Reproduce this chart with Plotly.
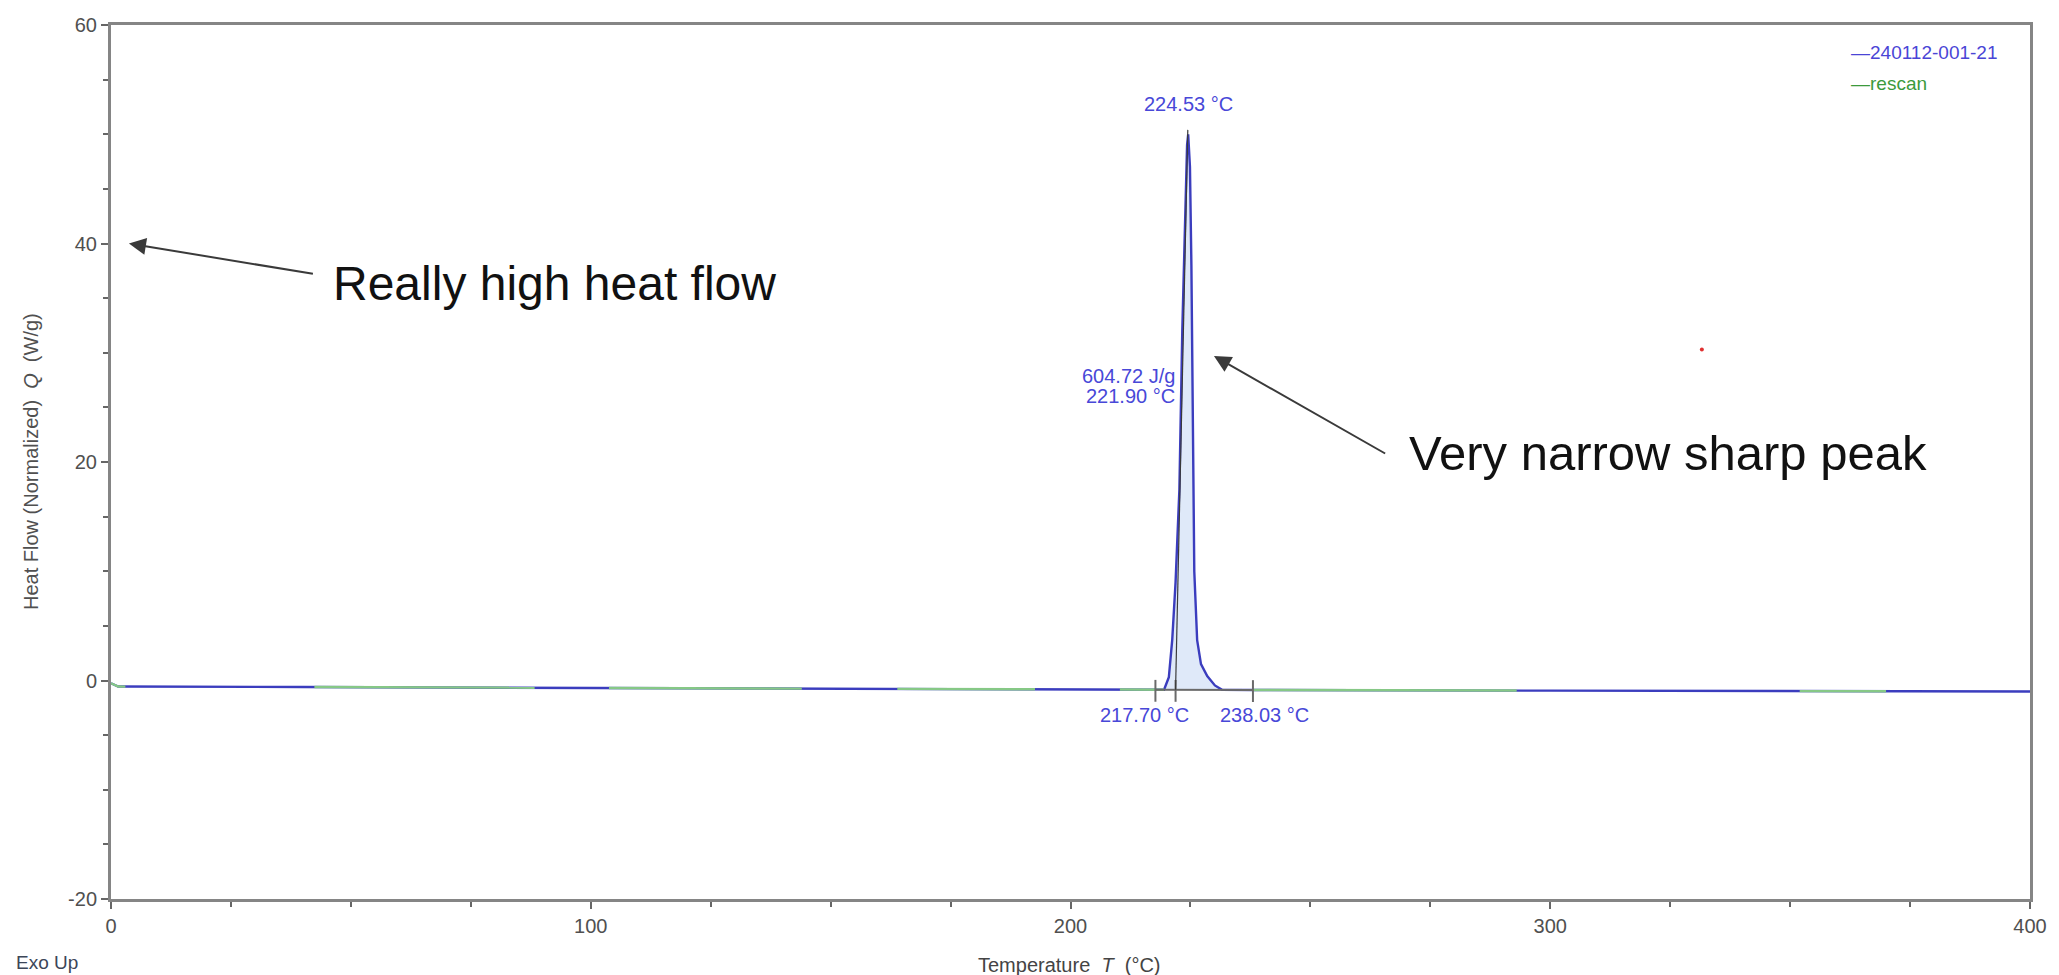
import numpy as np
import plotly.graph_objects as go

# ---------------- data ----------------
sample_name = "240112-001-21"
rescan_name = "rescan"

sample_T = [0, 1.5, 40, 100, 160, 210, 219.5, 220.5, 221.2, 221.9, 222.7, 223.3,
            223.9, 224.3, 224.53, 224.9, 225.2, 225.35, 225.5, 225.8, 226.4, 227.2,
            228.5, 230.1, 231.6, 238.0, 300, 350, 400]
sample_Q = [-0.25, -0.55, -0.6, -0.68, -0.76, -0.82, -0.85, 0.3, 3.7, 9.0, 17.5, 32.0,
            43.0, 49.0, 50.0, 47.0, 38.0, 30.0, 18.0, 10.0, 3.7, 1.5,
            0.4, -0.45, -0.85, -0.87, -0.93, -0.97, -1.0]

# rescan: only where it is visible on top of the sample curve (None = hidden under it)
rescan_T = [0, 1.5, 3.0, None, 42.4, 60, 88.3, None, 103.8, 120, 144.0, None,
            163.9, 180, 192.6, None, 210.3, 219.5, None, 238.0, 270, 293.0, None,
            352.0, 370.0]
rescan_Q = [-0.25, -0.55, -0.56, None, -0.6, -0.62, -0.66, None, -0.69, -0.71, -0.74, None,
            -0.77, -0.79, -0.8, None, -0.82, -0.85, None, -0.87, -0.9, -0.92, None,
            -0.97, -0.98]

# analysis results
peak_T, peak_label = 224.53, "224.53 °C"
enthalpy_label = "604.72 J/g"
onset_T, onset_label = 221.90, "221.90 °C"
limit_lo, limit_lo_label = 217.70, "217.70 °C"
limit_hi, limit_hi_label = 238.03, "238.03 °C"

x_ticks = [0, 100, 200, 300, 400]
y_ticks = [-20, 0, 20, 40, 60]

# ---------------- styles ----------------
FONT = "Liberation Sans, Arial, sans-serif"
BLUE = "#3b3dbe"
GREEN = "#86c886"
AXIS = "#858585"
TICKTXT = "#505050"
LABELBLUE = "#4848d8"

fig = go.Figure()

# integration fill between curve and linear baseline
sT = np.array(sample_T)
sQ = np.array(sample_Q)
q_lo = float(np.interp(limit_lo, sT, sQ))
q_hi = float(np.interp(limit_hi, sT, sQ))
mask = (sT > limit_lo) & (sT < limit_hi)
fill_x = [limit_lo] + list(sT[mask]) + [limit_hi, limit_lo]
fill_y = [q_lo] + list(sQ[mask]) + [q_hi, q_lo]
fig.add_trace(go.Scatter(x=fill_x, y=fill_y, mode="lines", fill="toself",
                         fillcolor="rgba(212,226,247,0.75)", line=dict(width=0),
                         hoverinfo="skip", showlegend=False))

fig.add_trace(go.Scatter(x=sample_T, y=sample_Q, mode="lines", name=sample_name,
                         line=dict(color=BLUE, width=2.4), showlegend=False))
fig.add_trace(go.Scatter(x=rescan_T, y=rescan_Q, mode="lines", name=rescan_name,
                         line=dict(color=GREEN, width=2.4), connectgaps=False,
                         showlegend=False))

# integration baseline & markers
shapes = []
shapes.append(dict(type="line", xref="x", yref="y", x0=limit_lo, y0=q_lo, x1=limit_hi, y1=q_hi,
                   line=dict(color="#6a6a6a", width=2)))
for t in (limit_lo, onset_T, limit_hi):
    qb = float(np.interp(t, [limit_lo, limit_hi], [q_lo, q_hi]))
    shapes.append(dict(type="line", xref="x", yref="y", x0=t, x1=t, y0=qb - 1.1, y1=qb + 0.9,
                       line=dict(color="#6a6a6a", width=2)))
q_on = float(np.interp(onset_T, [limit_lo, limit_hi], [q_lo, q_hi]))
shapes.append(dict(type="line", xref="x", yref="y", x0=onset_T, y0=q_on, x1=224.45, y1=50.4,
                   line=dict(color="#3a3a3a", width=1.2)))
# small red dot
shapes.append(dict(type="circle", xref="x", yref="y", xsizemode="pixel", ysizemode="pixel",
                   xanchor=331.6, yanchor=30.3, x0=-2, x1=2, y0=-2, y1=2,
                   fillcolor="#e03030", line=dict(width=0)))

annotations = []
def txt(x, y, text, size=20, color=LABELBLUE, xanchor="center", yanchor="middle", **kw):
    annotations.append(dict(x=x, y=y, xref="x", yref="y", text=text, showarrow=False,
                            font=dict(family=FONT, size=size, color=color),
                            xanchor=xanchor, yanchor=yanchor, **kw))

txt(peak_T, 52.8, peak_label)
txt(222.1, 27.9, enthalpy_label, xanchor="right")
txt(222.1, 26.0, onset_label, xanchor="right")
txt(215.4, -3.2, limit_lo_label)
txt(240.5, -3.2, limit_hi_label)

# comment arrows
for (tx, ty, hx, hy) in [(42.4, 37.2, 3.74, 40.0), (265.9, 20.7, 229.9, 29.7)]:
    annotations.append(dict(x=hx, y=hy, ax=tx, ay=ty, xref="x", yref="y", axref="x", ayref="y",
                            text="", showarrow=True, arrowhead=2, arrowsize=1.7,
                            arrowwidth=2, arrowcolor="#3a3a3a"))
txt(45.9, 36.3, "Really high heat flow", size=48, color="#111111", xanchor="left")
txt(270.1, 20.8, "Very narrow sharp peak", size=49, color="#111111", xanchor="left")

# legend-like entries (left aligned)
annotations.append(dict(xref="paper", yref="paper", x=1, y=1, xshift=-181, yshift=-27,
                        text="—" + sample_name, showarrow=False, xanchor="left", yanchor="middle",
                        font=dict(family=FONT, size=19, color="#4a45d6")))
annotations.append(dict(xref="paper", yref="paper", x=1, y=1, xshift=-181, yshift=-58,
                        text="—" + rescan_name, showarrow=False, xanchor="left", yanchor="middle",
                        font=dict(family=FONT, size=19, color="#3c9a3c")))

# axis titles and Exo Up
annotations.append(dict(xref="paper", yref="paper", x=0, y=0.5, xshift=-80,
                        text="Heat Flow (Normalized)  <i>Q</i>  (W/g)", textangle=-90,
                        showarrow=False, xanchor="center", yanchor="middle",
                        font=dict(family=FONT, size=20, color=TICKTXT)))
annotations.append(dict(xref="paper", yref="paper", x=0, y=0, xshift=958, yshift=-66,
                        text="Temperature  <i>T</i>  (°C)",
                        showarrow=False, xanchor="center", yanchor="middle",
                        font=dict(family=FONT, size=20, color="#444444")))
annotations.append(dict(xref="paper", yref="paper", x=0, y=0, xshift=-97, yshift=-63,
                        text="Exo Up", showarrow=False, xanchor="left", yanchor="middle",
                        font=dict(family=FONT, size=19, color="#3c4658")))

axis_common = dict(showline=True, linecolor=AXIS, linewidth=3, mirror=True,
                   ticks="outside", ticklen=7, tickwidth=2, tickcolor="#666666",
                   showgrid=False, zeroline=False,
                   tickfont=dict(family=FONT, size=20, color=TICKTXT))

fig.update_layout(
    width=2059, height=975,
    margin=dict(l=111, r=24, t=25, b=76),
    paper_bgcolor="white", plot_bgcolor="white",
    shapes=shapes, annotations=annotations, showlegend=False,
    xaxis=dict(range=[0, 400], tickvals=x_ticks, ticktext=[str(v) for v in x_ticks],
               minor=dict(dtick=25, ticks="outside", ticklen=5, tickwidth=2, tickcolor="#666666"),
               **axis_common),
    yaxis=dict(range=[-20, 60], tickvals=y_ticks, ticktext=[str(v) for v in y_ticks],
               minor=dict(dtick=5, ticks="outside", ticklen=5, tickwidth=2, tickcolor="#666666"),
               **axis_common),
)

fig.write_html("out.html")
